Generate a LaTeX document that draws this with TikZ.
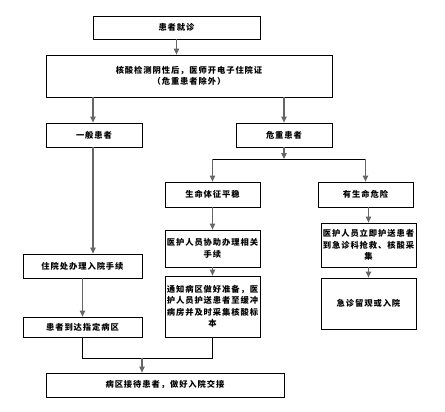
\documentclass[tikz,border=0pt]{standalone}
\usepackage{fontspec}
\setmainfont{Noto Sans CJK SC}[LetterSpace=11]
\usetikzlibrary{arrows.meta}

\begin{document}
\begin{tikzpicture}[x=1pt,y=-1pt]
\useasboundingbox (0,0) rectangle (445,412);

% Styles for the flow chart boxes and connectors
\tikzstyle{every node}=[draw,shape=rectangle,line width=0.8pt,align=center,inner sep=0pt,font=\fontsize{8.3}{11.5}\selectfont\bfseries,anchor=center];
\tikzstyle{arr}=[-{Triangle[width=5.5pt,length=6pt]},draw=black!60,line width=1.2pt];
\tikzstyle{link}=[draw=black,line width=0.8pt];

% Boxes of the main flow
\node[minimum width=167pt,minimum height=23pt] (visit) at (176.5,27.5) {患者就诊};
\node[minimum width=286pt,minimum height=42pt] (test) at (189,76) {核酸检测阴性后，医师开电子住院证\\（危重患者除外）};
\node[minimum width=96pt,minimum height=24pt] (normal) at (94,135) {一般患者};
\node[minimum width=96pt,minimum height=24pt] (severe) at (284,135) {危重患者};

% Boxes of the severe branch
\node[minimum width=95pt,minimum height=25pt] (stable) at (212.5,194.5) {生命体征平稳};
\node[minimum width=95pt,minimum height=25pt] (danger) at (365.5,194.5) {有生命危险};
\node[minimum width=95pt,minimum height=37pt] (assist) at (212.5,248.5) {医护人员协助办理相关\\手续};
\node[minimum width=95pt,minimum height=44pt] (escort) at (368.5,245) {医护人员立即护送患者\\到急诊科抢救、核酸采\\集};
\node[minimum width=95pt,minimum height=61pt] (notify) at (212.5,306.5) {通知病区做好准备，医\\护人员护送患者至缓冲\\病房并及时采集核酸标\\本};
\node[minimum width=95pt,minimum height=51pt] (observe) at (368.5,303.5) {急诊留观或入院};

% Boxes of the normal branch
\node[minimum width=119pt,minimum height=24pt] (admit) at (82.5,266) {住院处办理入院手续};
\node[minimum width=119pt,minimum height=20pt] (arrive) at (82.5,327) {患者到达指定病区};
\node[minimum width=238pt,minimum height=24pt] (ward) at (165,385) {病区接待患者，做好入院交接};

% Junction points
\coordinate (split) at (284,159);
\coordinate (join) at (142,358);

% Connectors
\draw[arr] (visit) -- (visit.south |- test.north);
\draw[arr] (test.south -| 93,0) -- (normal.north -| 93,0);
\draw[arr] (test.south -| severe) -- (severe);
\draw[arr] (severe) -- (split);
\draw[link] (stable.north |- split) -- (danger.north |- split);
\draw[arr] (stable.north |- split) -- (stable);
\draw[arr] (danger.north |- split) -- (danger);
\draw[arr] (stable) -- (assist);
\draw[arr] (assist) -- (notify);
\draw[arr] (danger.south -| escort) -- (escort);
\draw[arr] (escort) -- (observe);
\draw[arr] (normal.south -| 93,0) -- (admit.north -| 93,0);
\draw[arr] (admit) -- (arrive);
\draw[link] (arrive.south) -- (arrive.south |- join) -- (join -| notify.south) -- (notify.south);
\draw[arr] (join) -- (ward.north -| join);

\end{tikzpicture}
\end{document}
